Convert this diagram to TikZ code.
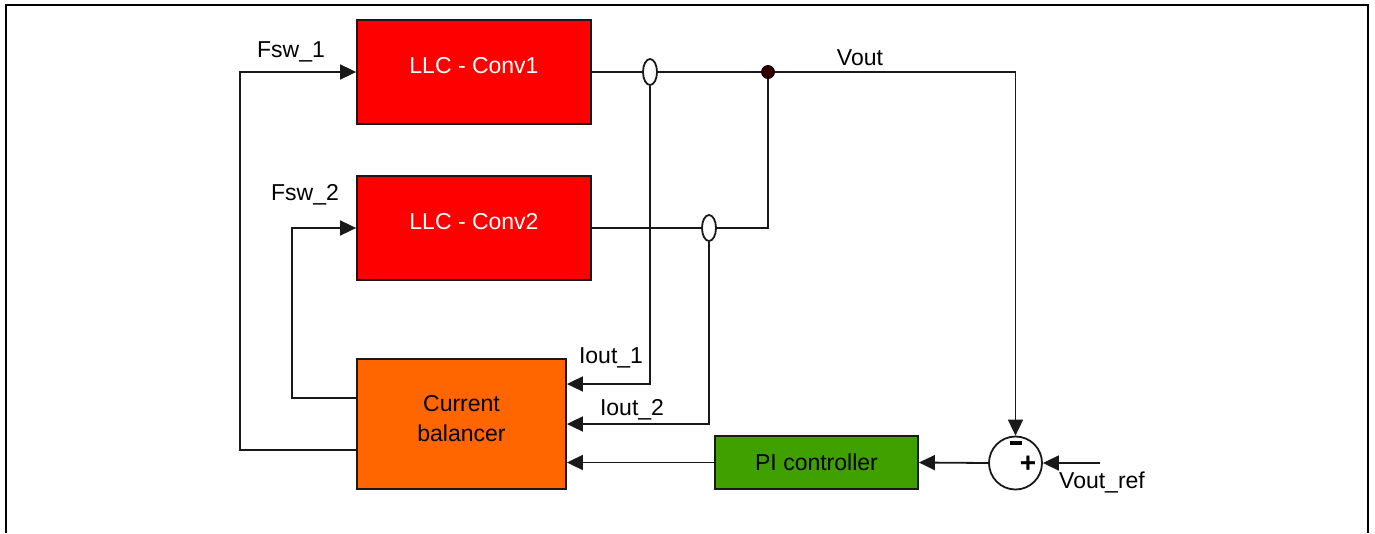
\documentclass[tikz,border=0pt]{standalone}
\usepackage{fontspec}
\setmainfont{Liberation Sans}
\usetikzlibrary{arrows.meta,shapes.geometric,backgrounds}
\definecolor{convred}{HTML}{FF0000}
\definecolor{balorange}{HTML}{FF6600}
\definecolor{pigreen}{HTML}{40A000}
\definecolor{dotbrown}{HTML}{330000}
\tikzset{
  blk/.style={draw=black!90, line width=1.8pt, inner sep=0pt},
  wire/.style={draw=black!90, line width=1.8pt},
  arr/.style={wire, -{Triangle[length=16pt,width=15pt]}},
  lbl/.style={font=\fontsize{23}{28}\selectfont, inner sep=0pt},
  cross/.style={ellipse, draw=black!90, fill=white, line width=1.8pt, minimum width=14pt, minimum height=26pt, inner sep=0pt},
}
\begin{document}
\begin{tikzpicture}[x=1pt,y=-1pt]
\useasboundingbox (0,0) rectangle (1375,533);
% frame
\draw[line width=2.5pt] (6,533) -- (6,5) -- (1368,5) -- (1368,533);
% blocks
\node[blk, fill=convred, minimum width=234pt, minimum height=104pt] (c1) at (474,72) {};
\node[lbl, text=white] (c1t) at ([yshift=6pt]c1.center) {LLC - Conv1};
\node[blk, fill=convred, minimum width=234pt, minimum height=104pt] (c2) at (474,228) {};
\node[lbl, text=white] (c2t) at ([yshift=6pt]c2.center) {LLC - Conv2};
\node[blk, fill=balorange, minimum width=209pt, minimum height=130pt] (cb) at (461.5,424) {};
\node[lbl, align=center] (cbt) at ([yshift=5pt]cb.center) {Current\\[2pt]balancer};
\node[blk, fill=pigreen, minimum width=203pt, minimum height=53pt] (pi) at (816.5,462.5) {};
\node[lbl] (pit) at (pi.center) {PI controller};
\node[circle, draw=black!90, fill=white, line width=1.8pt, minimum size=53pt, inner sep=0pt] (sum) at (1015.5,463) {};
\node[fill=black, minimum width=12pt, minimum height=3.5pt, inner sep=0pt] (minus) at (1016,443) {};
\node[font=\bfseries\fontsize{28}{28}\selectfont, inner sep=0pt] (plus) at (1028,464) {+};
% crossings and junction
\node[cross] (e1) at (650,72) {};
\node[cross] (e2) at (709,228) {};
\node[circle, fill=dotbrown, draw=black, line width=0.8pt, minimum size=13pt, inner sep=0pt] (dot) at (768,72) {};
\coordinate (vr) at (1100,463);
\begin{pgfonlayer}{background}
\draw[arr] ([yshift=-26pt]cb.west) -| (240,72) -- (c1.west);
\draw[arr] ([yshift=26pt]cb.west) -| (292,228) -- (c2.west);
\draw[arr] (c1.east) -| (sum.north);
\draw[wire] (c2.east) -| (dot.center);
\draw[arr] (e1.south) |- ([yshift=40pt]cb.east);
\draw[arr] (e2.south) |- (cb.east);
\draw[arr] (pi.west) -- (pi.west -| cb.east);
\draw[arr] (sum.west) -- (pi.east);
\draw[arr] (vr) -- (sum.east);
\end{pgfonlayer}
% labels
\node[lbl] (fsw1) at (291,52) {Fsw\_1};
\node[lbl] (fsw2) at (305,195) {Fsw\_2};
\node[lbl] (vout) at (860,58) {Vout};
\node[lbl] (io1) at (611,358) {Iout\_1};
\node[lbl] (io2) at (632,410) {Iout\_2};
\node[lbl] (vref) at (1102,482) {Vout\_ref};
\end{tikzpicture}
\end{document}
